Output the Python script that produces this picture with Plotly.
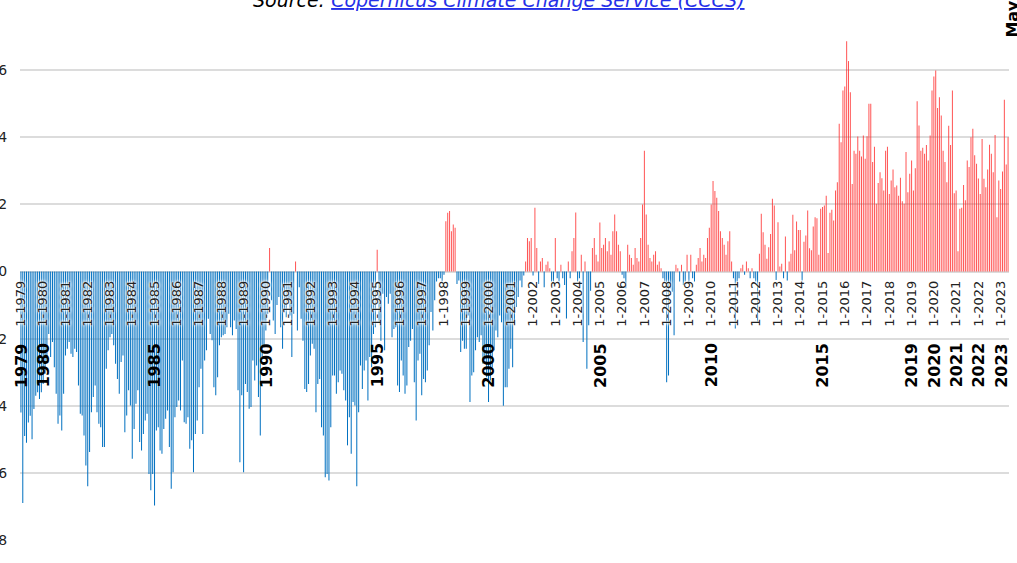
import plotly.graph_objects as go

# ---- data (monthly anomalies) ----
y1979 = [-0.42, -0.69, -0.49, -0.51, -0.45, -0.43, -0.50, -0.41, -0.37, -0.36, -0.38, -0.36]
y1980 = [-0.335, -0.305, -0.265, -0.186, -0.255, -0.21, -0.285, -0.364, -0.454, -0.429, -0.474, -0.364]
y1981 = [-0.25, -0.23, -0.21, -0.245, -0.255, -0.23, -0.24, -0.34, -0.424, -0.429, -0.489, -0.578]
y1982 = [-0.64, -0.538, -0.419, -0.374, -0.34, -0.419, -0.454, -0.464, -0.523, -0.523, -0.29, -0.235]
y1983 = [-0.196, -0.186, -0.22, -0.275, -0.32, -0.364, -0.27, -0.25, -0.479, -0.429, -0.354, -0.399]
y1984 = [-0.558, -0.469, -0.394, -0.354, -0.508, -0.533, -0.484, -0.444, -0.424, -0.603, -0.652, -0.603]
y1985 = [-0.697, -0.474, -0.464, -0.533, -0.543, -0.469, -0.439, -0.414, -0.523, -0.647, -0.598, -0.434]
y1986 = [-0.404, -0.384, -0.414, -0.265, -0.449, -0.454, -0.434, -0.528, -0.503, -0.598, -0.484, -0.444]
y1987 = [-0.345, -0.29, -0.484, -0.265, -0.235, -0.141, -0.186, -0.205, -0.345, -0.369, -0.315, -0.22]
y1988 = [-0.196, -0.19, -0.186, -0.166, -0.126, -0.166, -0.19, -0.146, -0.171, -0.354, -0.568, -0.369]
y1989 = [-0.598, -0.335, -0.359, -0.409, -0.404, -0.265, -0.325, -0.28, -0.374, -0.489, -0.255, -0.225]
y1990 = [-0.176, -0.126, 0.07, -0.086, -0.146, -0.186, -0.10, -0.076, -0.166, -0.23, -0.116, -0.136]
y1991 = [-0.086, -0.131, -0.255, -0.126, 0.03, -0.176, -0.047, -0.141, -0.206, -0.35, -0.359, -0.335]
y1992 = [-0.25, -0.215, -0.23, -0.419, -0.335, -0.32, -0.464, -0.489, -0.613, -0.603, -0.623, -0.464]
y1993 = [-0.31, -0.31, -0.364, -0.33, -0.295, -0.305, -0.354, -0.384, -0.518, -0.434, -0.543, -0.389]
y1994 = [-0.399, -0.64, -0.419, -0.28, -0.35, -0.295, -0.265, -0.384, -0.255, -0.285, -0.186, -0.166]
y1995 = [0.065, -0.151, -0.206, -0.066, -0.235, -0.076, -0.096, -0.066, -0.196, -0.171, -0.166, -0.34]
y1996 = [-0.359, -0.265, -0.31, -0.364, -0.34, -0.225, -0.206, -0.171, -0.33, -0.444, -0.265, -0.245]
y1997 = [-0.369, -0.32, -0.33, -0.295, -0.22, -0.121, -0.176, -0.086, -0.03, -0.02, -0.02, -0.03]
y1998 = [-0.01, 0.15, 0.175, 0.18, 0.12, 0.14, 0.13, -0.037, -0.027, -0.24, -0.206, -0.23]
y1999 = [-0.23, -0.131, -0.389, -0.31, -0.30, -0.235, -0.196, -0.21, -0.19, -0.275, -0.265, -0.315]
y2000 = [-0.389, -0.325, -0.285, -0.235, -0.176, -0.196, -0.131, -0.151, -0.40, -0.345, -0.345, -0.29]
y2001 = [-0.23, -0.285, -0.156, -0.106, -0.076, -0.027, -0.047, -0.012, 0.03, 0.10, 0.09, 0.10]
y2002 = [-0.012, 0.19, 0.07, -0.037, 0.03, 0.04, -0.047, 0.02, 0.03, 0.01, -0.03, -0.03]
y2003 = [0.10, -0.02, -0.03, 0.02, -0.02, -0.04, -0.14, 0.03, -0.02, 0.06, 0.10, 0.176]
y2004 = [-0.03, -0.02, 0.05, -0.21, 0.03, -0.29, -0.16, -0.057, 0.07, 0.10, 0.05, 0.03]
y2005 = [0.146, 0.07, 0.08, 0.10, 0.06, 0.09, 0.05, 0.12, 0.17, 0.12, 0.08, 0.06]
y2006 = [-0.01, -0.02, -0.05, 0.08, 0.05, 0.04, 0.02, 0.07, 0.04, 0.03, 0.10, 0.20]
y2007 = [0.36, 0.17, 0.08, 0.04, 0.03, 0.05, 0.06, 0.02, 0.03, 0.01, -0.02, -0.03]
y2008 = [-0.33, -0.31, -0.05, -0.06, -0.19, 0.02, 0.01, -0.03, 0.02, -0.04, -0.03, 0.05]
y2009 = [-0.03, 0.05, -0.02, -0.03, 0.02, 0.04, 0.07, 0.03, 0.05, 0.04, 0.10, 0.13]
y2010 = [0.20, 0.27, 0.24, 0.22, 0.18, 0.12, 0.10, 0.08, 0.05, 0.09, 0.12, 0.03]
y2011 = [-0.02, -0.17, -0.03, -0.02, 0.01, 0.02, -0.01, 0.03, 0.01, -0.02, 0.01, -0.02]
y2012 = [-0.03, -0.15, 0.053, 0.172, 0.117, 0.08, 0.038, 0.072, 0.112, 0.217, 0.197, -0.025]
y2013 = [0.147, 0.015, 0.023, -0.02, 0.104, -0.027, 0.03, 0.053, 0.169, 0.063, 0.149, 0.124]
y2014 = [0.124, -0.027, 0.089, 0.107, 0.182, 0.069, 0.063, 0.134, 0.162, 0.159, 0.05, 0.187]
y2015 = [0.192, 0.197, 0.226, 0.055, 0.175, 0.184, 0.152, 0.241, 0.266, 0.44, 0.385, 0.539]
y2016 = [0.551, 0.686, 0.627, 0.534, 0.261, 0.36, 0.351, 0.402, 0.36, 0.343, 0.405, 0.336]
y2017 = [0.403, 0.5, 0.5, 0.326, 0.372, 0.202, 0.264, 0.296, 0.278, 0.241, 0.36, 0.372]
y2018 = [0.231, 0.271, 0.304, 0.251, 0.256, 0.226, 0.279, 0.209, 0.202, 0.356, 0.236, 0.291]
y2019 = [0.331, 0.241, 0.308, 0.507, 0.435, 0.36, 0.369, 0.351, 0.377, 0.331, 0.405, 0.539]
y2020 = [0.581, 0.599, 0.487, 0.519, 0.465, 0.36, 0.326, 0.266, 0.434, 0.377, 0.539, 0.233]
y2021 = [0.241, 0.06, 0.187, 0.19, 0.258, 0.212, 0.331, 0.311, 0.40, 0.425, 0.346, 0.321]
y2022 = [0.277, 0.231, 0.395, 0.276, 0.251, 0.304, 0.378, 0.351, 0.296, 0.407, 0.162, 0.271]
y2023 = [0.246, 0.298, 0.512, 0.319, 0.40]

years = list(range(1979, 2024))
bold_years = [1979, 1980, 1985, 1990, 1995, 2000, 2005, 2010, 2015, 2019, 2020, 2021, 2022, 2023]
title_prefix = "Source: "
source_name = "Copernicus Climate Change Service (CCCS)"
source_url = "https://climate.copernicus.eu/"
last_month_label = "May"

yearly = [y1979, y1980, y1981, y1982, y1983, y1984, y1985, y1986, y1987, y1988,
          y1989, y1990, y1991, y1992, y1993, y1994, y1995, y1996, y1997, y1998,
          y1999, y2000, y2001, y2002, y2003, y2004, y2005, y2006, y2007, y2008,
          y2009, y2010, y2011, y2012, y2013, y2014, y2015, y2016, y2017, y2018,
          y2019, y2020, y2021, y2022, y2023]

values, categories = [], []
for yr, vals in zip(years, yearly):
    for m, v in enumerate(vals, start=1):
        values.append(v)
        categories.append(f"{m}-{yr}")

# alpha < 1 makes plotly snap each thin bar to whole pixels (leaving gaps)
NEG = "rgba(0,112,192,0.99)"
POS = "rgba(255,40,40,0.78)"
colors = [NEG if v < 0 else POS for v in values]

fig = go.Figure(go.Bar(
    x=categories, y=values,
    marker=dict(color=colors, line=dict(width=0)),
    hoverinfo="x+y",
))

FONT = "DejaVu Sans"
tick_jan = [f"1-{y}" for y in years]

annotations = []
for y in bold_years:
    annotations.append(dict(
        x=f"1-{y}", y=-0.279, xref="x", yref="y",
        text=f"<b>{y}</b>", textangle=-90, showarrow=False,
        font=dict(family=FONT, size=16, color="#000"),
    ))

annotations.append(dict(
    x=0.4843, y=1.0050, xref="paper", yref="paper",
    xanchor="center", yanchor="middle", showarrow=False,
    text=(f"<i>{title_prefix}<a href='{source_url}'>"
          f"<span style='color:#2530e8'><u>{source_name}</u></span></a></i>"),
    font=dict(family=FONT, size=19, color="#000"),
))
annotations.append(dict(
    x=1.0035, y=0.970, xref="paper", yref="paper",
    xanchor="center", yanchor="middle", showarrow=False,
    text=f"<b>{last_month_label}</b>", textangle=-90,
    font=dict(family=FONT, size=16, color="#000"),
))

fig.update_layout(
    width=1017, height=563,
    margin=dict(l=20, r=8, t=3, b=23, autoexpand=False),
    paper_bgcolor="white", plot_bgcolor="white",
    bargap=0.45, showlegend=False,
    font=dict(family=FONT, size=13, color="#222"),
    annotations=annotations,
    xaxis=dict(
        type="category", tickmode="array", tickvals=tick_jan, ticktext=tick_jan,
        tickangle=-90, anchor="free", position=0.5, side="bottom",
        showgrid=False, showline=False, zeroline=False,
        ticks="outside", ticklen=3, tickcolor="rgba(0,0,0,0)",
        range=[-0.5, len(values) - 0.5], automargin=False,
        tickfont=dict(family=FONT, size=13, color="#222",
                      shadow="0px 0px 2px white, 0px 0px 3px white, 0px 0px 4px white"),
    ),
    yaxis=dict(
        range=[-0.8, 0.8], dtick=0.2, tick0=0, tickformat=".1f",
        showgrid=True, gridcolor="#dcdcdc", gridwidth=1.5,
        zeroline=True, zerolinecolor="#dcdcdc", zerolinewidth=1.5,
        ticks="outside", ticklen=9, tickcolor="rgba(0,0,0,0)",
        tickfont=dict(family=FONT, size=14, color="#222"),
        automargin=False,
    ),
)

fig.write_html("out.html", config={"displayModeBar": False},
               post_script="document.body.style.margin='0px';")
